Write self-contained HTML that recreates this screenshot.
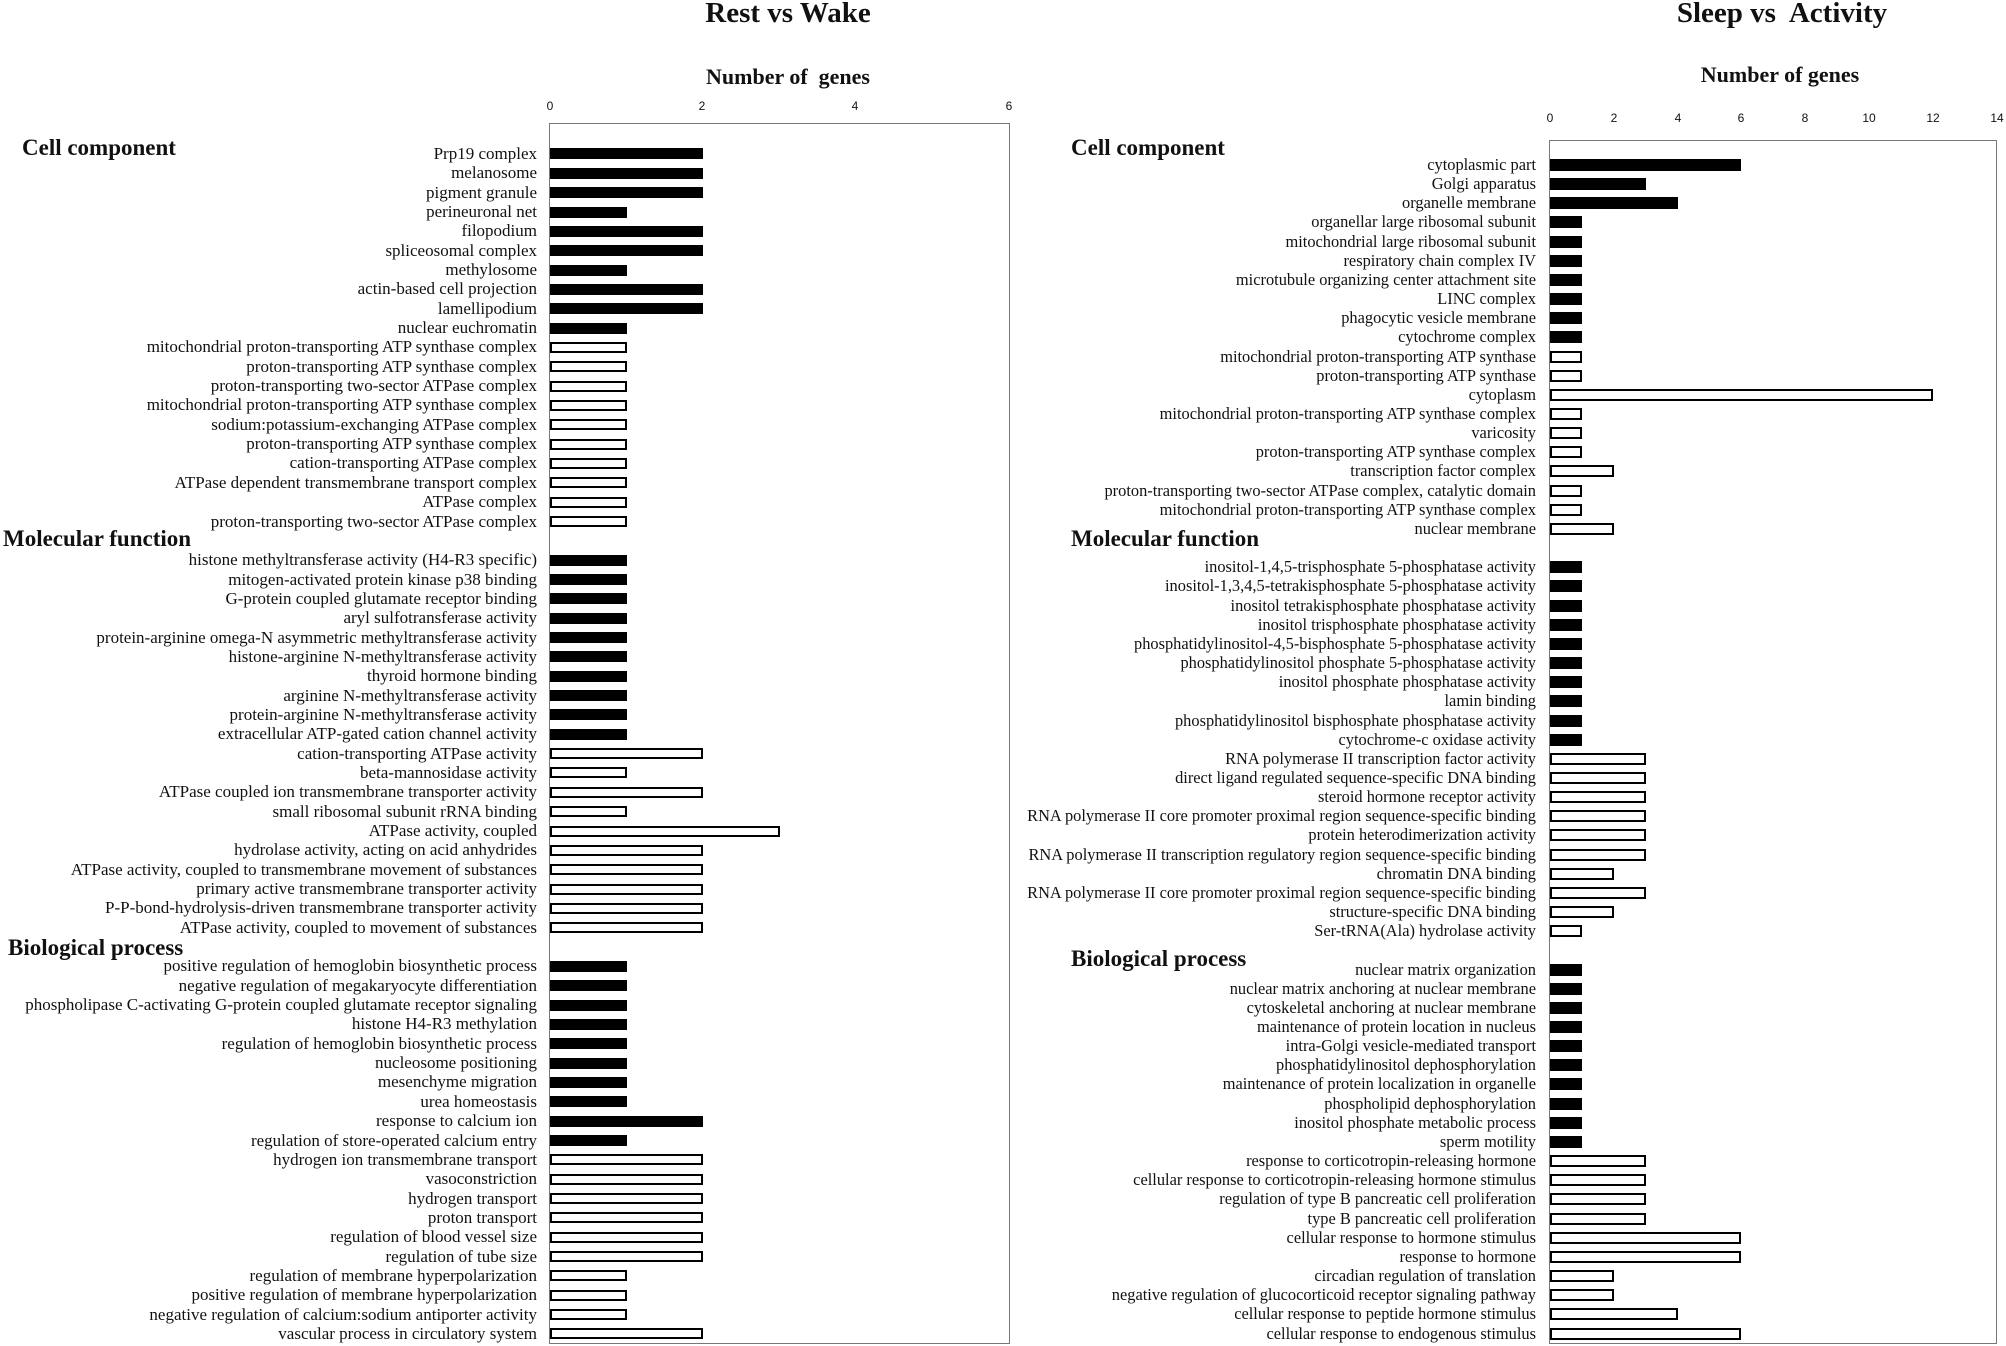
<!DOCTYPE html>
<html><head><meta charset="utf-8"><style>
html,body{margin:0;padding:0;background:#fff;}
body{width:2006px;height:1346px;position:relative;overflow:hidden;font-family:"Liberation Serif",serif;color:#111;}
.abs{position:absolute;}
.t{font-weight:bold;font-size:29px;white-space:nowrap;transform:translateX(-50%);}
.ax{font-weight:bold;font-size:22px;white-space:nowrap;transform:translateX(-50%);}
.tk{font-family:"Liberation Sans",sans-serif;font-size:12px;transform:translateX(-50%);}
.h{font-weight:bold;font-size:23px;white-space:nowrap;}
.box{border:1.5px solid #777;box-sizing:border-box;}
.rows{position:absolute;}
.r{display:flex;align-items:center;white-space:nowrap;}
.L .r{height:19.35px;}
.R .r{height:19.16px;}
.lb{text-align:right;flex:none;}
.L .lb{width:537px;margin-right:13px;font-size:17px;}
.R .lb{width:536px;margin-right:14px;font-size:16.4px;}
.b{height:11px;background:#000;flex:none;box-sizing:border-box;}
.R .b{height:12px;}
.w{background:#fff;border:2px solid #000;}
</style></head><body>

<!-- LEFT CHART -->
<div class="abs t" style="left:788px;top:-3px;">Rest vs Wake</div>
<div class="abs ax" style="left:788px;top:64px;">Number of&nbsp; genes</div>
<div class="abs tk" style="left:550px;top:99px;">0</div>
<div class="abs tk" style="left:702px;top:99px;">2</div>
<div class="abs tk" style="left:855px;top:99px;">4</div>
<div class="abs tk" style="left:1009px;top:99px;">6</div>
<div class="abs box" style="left:549px;top:123px;width:461px;height:1221px;"></div>
<div class="abs h" style="left:22px;top:135px;">Cell component</div>
<div class="abs h" style="left:3px;top:526px;">Molecular function</div>
<div class="abs h" style="left:8px;top:935px;">Biological process</div>

<div class="rows L" style="left:0;top:144.3px;">
<div class="r"><div class="lb">Prp19 complex</div><div class="b" style="width:153px"></div></div>
<div class="r"><div class="lb">melanosome</div><div class="b" style="width:153px"></div></div>
<div class="r"><div class="lb">pigment granule</div><div class="b" style="width:153px"></div></div>
<div class="r"><div class="lb">perineuronal net</div><div class="b" style="width:77px"></div></div>
<div class="r"><div class="lb">filopodium</div><div class="b" style="width:153px"></div></div>
<div class="r"><div class="lb">spliceosomal complex</div><div class="b" style="width:153px"></div></div>
<div class="r"><div class="lb">methylosome</div><div class="b" style="width:77px"></div></div>
<div class="r"><div class="lb">actin-based cell projection</div><div class="b" style="width:153px"></div></div>
<div class="r"><div class="lb">lamellipodium</div><div class="b" style="width:153px"></div></div>
<div class="r"><div class="lb">nuclear euchromatin</div><div class="b" style="width:77px"></div></div>
<div class="r"><div class="lb">mitochondrial proton-transporting ATP synthase complex</div><div class="b w" style="width:77px"></div></div>
<div class="r"><div class="lb">proton-transporting ATP synthase complex</div><div class="b w" style="width:77px"></div></div>
<div class="r"><div class="lb">proton-transporting two-sector ATPase complex</div><div class="b w" style="width:77px"></div></div>
<div class="r"><div class="lb">mitochondrial proton-transporting ATP synthase complex</div><div class="b w" style="width:77px"></div></div>
<div class="r"><div class="lb">sodium:potassium-exchanging ATPase complex</div><div class="b w" style="width:77px"></div></div>
<div class="r"><div class="lb">proton-transporting ATP synthase complex</div><div class="b w" style="width:77px"></div></div>
<div class="r"><div class="lb">cation-transporting ATPase complex</div><div class="b w" style="width:77px"></div></div>
<div class="r"><div class="lb">ATPase dependent transmembrane transport complex</div><div class="b w" style="width:77px"></div></div>
<div class="r"><div class="lb">ATPase complex</div><div class="b w" style="width:77px"></div></div>
<div class="r"><div class="lb">proton-transporting two-sector ATPase complex</div><div class="b w" style="width:77px"></div></div>
<div class="r"></div>
<div class="r"><div class="lb">histone methyltransferase activity (H4-R3 specific)</div><div class="b" style="width:77px"></div></div>
<div class="r"><div class="lb">mitogen-activated protein kinase p38 binding</div><div class="b" style="width:77px"></div></div>
<div class="r"><div class="lb">G-protein coupled glutamate receptor binding</div><div class="b" style="width:77px"></div></div>
<div class="r"><div class="lb">aryl sulfotransferase activity</div><div class="b" style="width:77px"></div></div>
<div class="r"><div class="lb">protein-arginine omega-N asymmetric methyltransferase activity</div><div class="b" style="width:77px"></div></div>
<div class="r"><div class="lb">histone-arginine N-methyltransferase activity</div><div class="b" style="width:77px"></div></div>
<div class="r"><div class="lb">thyroid hormone binding</div><div class="b" style="width:77px"></div></div>
<div class="r"><div class="lb">arginine N-methyltransferase activity</div><div class="b" style="width:77px"></div></div>
<div class="r"><div class="lb">protein-arginine N-methyltransferase activity</div><div class="b" style="width:77px"></div></div>
<div class="r"><div class="lb">extracellular ATP-gated cation channel activity</div><div class="b" style="width:77px"></div></div>
<div class="r"><div class="lb">cation-transporting ATPase activity</div><div class="b w" style="width:153px"></div></div>
<div class="r"><div class="lb">beta-mannosidase activity</div><div class="b w" style="width:77px"></div></div>
<div class="r"><div class="lb">ATPase coupled ion transmembrane transporter activity</div><div class="b w" style="width:153px"></div></div>
<div class="r"><div class="lb">small ribosomal subunit rRNA binding</div><div class="b w" style="width:77px"></div></div>
<div class="r"><div class="lb">ATPase activity, coupled</div><div class="b w" style="width:230px"></div></div>
<div class="r"><div class="lb">hydrolase activity, acting on acid anhydrides</div><div class="b w" style="width:153px"></div></div>
<div class="r"><div class="lb">ATPase activity, coupled to transmembrane movement of substances</div><div class="b w" style="width:153px"></div></div>
<div class="r"><div class="lb">primary active transmembrane transporter activity</div><div class="b w" style="width:153px"></div></div>
<div class="r"><div class="lb">P-P-bond-hydrolysis-driven transmembrane transporter activity</div><div class="b w" style="width:153px"></div></div>
<div class="r"><div class="lb">ATPase activity, coupled to movement of substances</div><div class="b w" style="width:153px"></div></div>
<div class="r"></div>
<div class="r"><div class="lb">positive regulation of hemoglobin biosynthetic process</div><div class="b" style="width:77px"></div></div>
<div class="r"><div class="lb">negative regulation of megakaryocyte differentiation</div><div class="b" style="width:77px"></div></div>
<div class="r"><div class="lb">phospholipase C-activating G-protein coupled glutamate receptor signaling</div><div class="b" style="width:77px"></div></div>
<div class="r"><div class="lb">histone H4-R3 methylation</div><div class="b" style="width:77px"></div></div>
<div class="r"><div class="lb">regulation of hemoglobin biosynthetic process</div><div class="b" style="width:77px"></div></div>
<div class="r"><div class="lb">nucleosome positioning</div><div class="b" style="width:77px"></div></div>
<div class="r"><div class="lb">mesenchyme migration</div><div class="b" style="width:77px"></div></div>
<div class="r"><div class="lb">urea homeostasis</div><div class="b" style="width:77px"></div></div>
<div class="r"><div class="lb">response to calcium ion</div><div class="b" style="width:153px"></div></div>
<div class="r"><div class="lb">regulation of store-operated calcium entry</div><div class="b" style="width:77px"></div></div>
<div class="r"><div class="lb">hydrogen ion transmembrane transport</div><div class="b w" style="width:153px"></div></div>
<div class="r"><div class="lb">vasoconstriction</div><div class="b w" style="width:153px"></div></div>
<div class="r"><div class="lb">hydrogen transport</div><div class="b w" style="width:153px"></div></div>
<div class="r"><div class="lb">proton transport</div><div class="b w" style="width:153px"></div></div>
<div class="r"><div class="lb">regulation of blood vessel size</div><div class="b w" style="width:153px"></div></div>
<div class="r"><div class="lb">regulation of tube size</div><div class="b w" style="width:153px"></div></div>
<div class="r"><div class="lb">regulation of membrane hyperpolarization</div><div class="b w" style="width:77px"></div></div>
<div class="r"><div class="lb">positive regulation of membrane hyperpolarization</div><div class="b w" style="width:77px"></div></div>
<div class="r"><div class="lb">negative regulation of calcium:sodium antiporter activity</div><div class="b w" style="width:77px"></div></div>
<div class="r"><div class="lb">vascular process in circulatory system</div><div class="b w" style="width:153px"></div></div>
</div>

<!-- RIGHT CHART -->
<div class="abs t" style="left:1782px;top:-3px;">Sleep vs&nbsp; Activity</div>
<div class="abs ax" style="left:1780px;top:62px;">Number of genes</div>
<div class="abs tk" style="left:1550px;top:111px;">0</div>
<div class="abs tk" style="left:1614px;top:111px;">2</div>
<div class="abs tk" style="left:1678px;top:111px;">4</div>
<div class="abs tk" style="left:1741px;top:111px;">6</div>
<div class="abs tk" style="left:1805px;top:111px;">8</div>
<div class="abs tk" style="left:1869px;top:111px;">10</div>
<div class="abs tk" style="left:1933px;top:111px;">12</div>
<div class="abs tk" style="left:1997px;top:111px;">14</div>
<div class="abs box" style="left:1549px;top:140px;width:448px;height:1204px;"></div>
<div class="abs h" style="left:1071px;top:135px;">Cell component</div>
<div class="abs h" style="left:1071px;top:526px;">Molecular function</div>
<div class="abs h" style="left:1071px;top:946px;">Biological process</div>

<div class="rows R" style="left:1000px;top:155.4px;">
<div class="r"><div class="lb">cytoplasmic part</div><div class="b" style="width:191px"></div></div>
<div class="r"><div class="lb">Golgi apparatus</div><div class="b" style="width:96px"></div></div>
<div class="r"><div class="lb">organelle membrane</div><div class="b" style="width:128px"></div></div>
<div class="r"><div class="lb">organellar large ribosomal subunit</div><div class="b" style="width:32px"></div></div>
<div class="r"><div class="lb">mitochondrial large ribosomal subunit</div><div class="b" style="width:32px"></div></div>
<div class="r"><div class="lb">respiratory chain complex IV</div><div class="b" style="width:32px"></div></div>
<div class="r"><div class="lb">microtubule organizing center attachment site</div><div class="b" style="width:32px"></div></div>
<div class="r"><div class="lb">LINC complex</div><div class="b" style="width:32px"></div></div>
<div class="r"><div class="lb">phagocytic vesicle membrane</div><div class="b" style="width:32px"></div></div>
<div class="r"><div class="lb">cytochrome complex</div><div class="b" style="width:32px"></div></div>
<div class="r"><div class="lb">mitochondrial proton-transporting ATP synthase</div><div class="b w" style="width:32px"></div></div>
<div class="r"><div class="lb">proton-transporting ATP synthase</div><div class="b w" style="width:32px"></div></div>
<div class="r"><div class="lb">cytoplasm</div><div class="b w" style="width:383px"></div></div>
<div class="r"><div class="lb">mitochondrial proton-transporting ATP synthase complex</div><div class="b w" style="width:32px"></div></div>
<div class="r"><div class="lb">varicosity</div><div class="b w" style="width:32px"></div></div>
<div class="r"><div class="lb">proton-transporting ATP synthase complex</div><div class="b w" style="width:32px"></div></div>
<div class="r"><div class="lb">transcription factor complex</div><div class="b w" style="width:64px"></div></div>
<div class="r"><div class="lb">proton-transporting two-sector ATPase complex, catalytic domain</div><div class="b w" style="width:32px"></div></div>
<div class="r"><div class="lb">mitochondrial proton-transporting ATP synthase complex</div><div class="b w" style="width:32px"></div></div>
<div class="r"><div class="lb">nuclear membrane</div><div class="b w" style="width:64px"></div></div>
<div class="r"></div>
<div class="r"><div class="lb">inositol-1,4,5-trisphosphate 5-phosphatase activity</div><div class="b" style="width:32px"></div></div>
<div class="r"><div class="lb">inositol-1,3,4,5-tetrakisphosphate 5-phosphatase activity</div><div class="b" style="width:32px"></div></div>
<div class="r"><div class="lb">inositol tetrakisphosphate phosphatase activity</div><div class="b" style="width:32px"></div></div>
<div class="r"><div class="lb">inositol trisphosphate phosphatase activity</div><div class="b" style="width:32px"></div></div>
<div class="r"><div class="lb">phosphatidylinositol-4,5-bisphosphate 5-phosphatase activity</div><div class="b" style="width:32px"></div></div>
<div class="r"><div class="lb">phosphatidylinositol phosphate 5-phosphatase activity</div><div class="b" style="width:32px"></div></div>
<div class="r"><div class="lb">inositol phosphate phosphatase activity</div><div class="b" style="width:32px"></div></div>
<div class="r"><div class="lb">lamin binding</div><div class="b" style="width:32px"></div></div>
<div class="r"><div class="lb">phosphatidylinositol bisphosphate phosphatase activity</div><div class="b" style="width:32px"></div></div>
<div class="r"><div class="lb">cytochrome-c oxidase activity</div><div class="b" style="width:32px"></div></div>
<div class="r"><div class="lb">RNA polymerase II transcription factor activity</div><div class="b w" style="width:96px"></div></div>
<div class="r"><div class="lb">direct ligand regulated sequence-specific DNA binding</div><div class="b w" style="width:96px"></div></div>
<div class="r"><div class="lb">steroid hormone receptor activity</div><div class="b w" style="width:96px"></div></div>
<div class="r"><div class="lb">RNA polymerase II core promoter proximal region sequence-specific binding</div><div class="b w" style="width:96px"></div></div>
<div class="r"><div class="lb">protein heterodimerization activity</div><div class="b w" style="width:96px"></div></div>
<div class="r"><div class="lb">RNA polymerase II transcription regulatory region sequence-specific binding</div><div class="b w" style="width:96px"></div></div>
<div class="r"><div class="lb">chromatin DNA binding</div><div class="b w" style="width:64px"></div></div>
<div class="r"><div class="lb">RNA polymerase II core promoter proximal region sequence-specific binding</div><div class="b w" style="width:96px"></div></div>
<div class="r"><div class="lb">structure-specific DNA binding</div><div class="b w" style="width:64px"></div></div>
<div class="r"><div class="lb">Ser-tRNA(Ala) hydrolase activity</div><div class="b w" style="width:32px"></div></div>
<div class="r"></div>
<div class="r"><div class="lb">nuclear matrix organization</div><div class="b" style="width:32px"></div></div>
<div class="r"><div class="lb">nuclear matrix anchoring at nuclear membrane</div><div class="b" style="width:32px"></div></div>
<div class="r"><div class="lb">cytoskeletal anchoring at nuclear membrane</div><div class="b" style="width:32px"></div></div>
<div class="r"><div class="lb">maintenance of protein location in nucleus</div><div class="b" style="width:32px"></div></div>
<div class="r"><div class="lb">intra-Golgi vesicle-mediated transport</div><div class="b" style="width:32px"></div></div>
<div class="r"><div class="lb">phosphatidylinositol dephosphorylation</div><div class="b" style="width:32px"></div></div>
<div class="r"><div class="lb">maintenance of protein localization in organelle</div><div class="b" style="width:32px"></div></div>
<div class="r"><div class="lb">phospholipid dephosphorylation</div><div class="b" style="width:32px"></div></div>
<div class="r"><div class="lb">inositol phosphate metabolic process</div><div class="b" style="width:32px"></div></div>
<div class="r"><div class="lb">sperm motility</div><div class="b" style="width:32px"></div></div>
<div class="r"><div class="lb">response to corticotropin-releasing hormone</div><div class="b w" style="width:96px"></div></div>
<div class="r"><div class="lb">cellular response to corticotropin-releasing hormone stimulus</div><div class="b w" style="width:96px"></div></div>
<div class="r"><div class="lb">regulation of type B pancreatic cell proliferation</div><div class="b w" style="width:96px"></div></div>
<div class="r"><div class="lb">type B pancreatic cell proliferation</div><div class="b w" style="width:96px"></div></div>
<div class="r"><div class="lb">cellular response to hormone stimulus</div><div class="b w" style="width:191px"></div></div>
<div class="r"><div class="lb">response to hormone</div><div class="b w" style="width:191px"></div></div>
<div class="r"><div class="lb">circadian regulation of translation</div><div class="b w" style="width:64px"></div></div>
<div class="r"><div class="lb">negative regulation of glucocorticoid receptor signaling pathway</div><div class="b w" style="width:64px"></div></div>
<div class="r"><div class="lb">cellular response to peptide hormone stimulus</div><div class="b w" style="width:128px"></div></div>
<div class="r"><div class="lb">cellular response to endogenous stimulus</div><div class="b w" style="width:191px"></div></div>
</div>
</body></html>
